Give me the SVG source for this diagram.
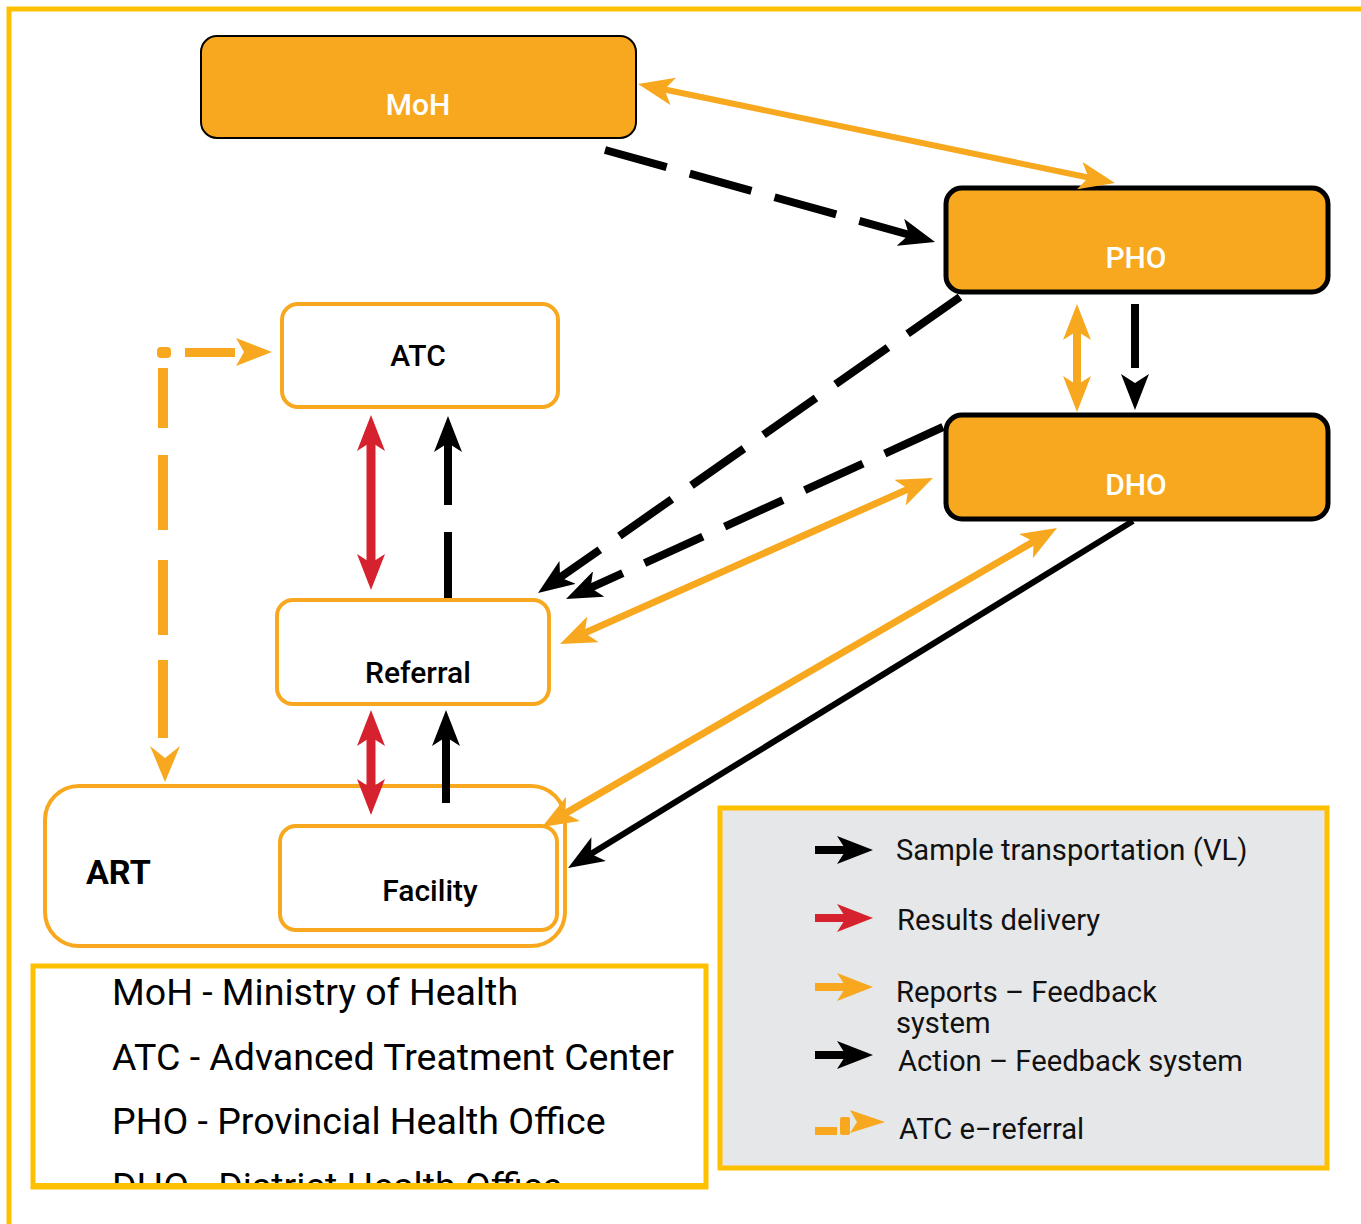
<svg xmlns="http://www.w3.org/2000/svg" width="1361" height="1224" viewBox="0 0 1361 1224">
<style>
.node{fill:#F7A81E;stroke:#000;}
.wbox{fill:#fff;stroke:#F7A81E;stroke-width:4;}
.lbl{font-family:Roboto,"Liberation Sans",sans-serif;font-weight:500;font-size:30px;text-anchor:middle;}
.wt{fill:#fff;}
.bk{fill:#000;}
.leg{font-family:Roboto,"Liberation Sans",sans-serif;font-size:29.2px;fill:#111;}
.abbr{font-family:Roboto,"Liberation Sans",sans-serif;font-size:37.5px;fill:#000;}
.o{stroke:#F7A81E;fill:none;}
.b{stroke:#000;fill:none;}
.r{stroke:#D6222E;fill:none;}
</style>
<defs>
<marker id="mo" viewBox="0 0 36 28" refX="10" refY="14" markerWidth="36" markerHeight="28" markerUnits="userSpaceOnUse" orient="auto-start-reverse"><path d="M0,0 L36,14 L0,28 L9,14 z" fill="#F7A81E"/></marker>
<marker id="mb" viewBox="0 0 36 28" refX="10" refY="14" markerWidth="36" markerHeight="28" markerUnits="userSpaceOnUse" orient="auto-start-reverse"><path d="M0,0 L36,14 L0,28 L9,14 z" fill="#000"/></marker>
<marker id="mr" viewBox="0 0 36 28" refX="10" refY="14" markerWidth="36" markerHeight="28" markerUnits="userSpaceOnUse" orient="auto-start-reverse"><path d="M0,0 L36,14 L0,28 L9,14 z" fill="#D6222E"/></marker>
<clipPath id="abclip"><rect x="30" y="960" width="680" height="224"/></clipPath>
</defs>
<rect width="1361" height="1224" fill="#fff"/>
<path d="M9,1224 L9,9 L1361,9" fill="none" stroke="#FFC000" stroke-width="5"/>

<g id="MoH"><rect class="node" x="201" y="36" width="435" height="102" rx="16" stroke-width="2"/><text class="lbl wt" x="418" y="115">MoH</text></g>
<g id="PHO"><rect class="node" x="946" y="188" width="382" height="104" rx="16" stroke-width="5"/><text class="lbl wt" x="1136" y="268">PHO</text></g>
<g id="DHO"><rect class="node" x="946" y="415" width="382" height="104" rx="16" stroke-width="5"/><text class="lbl wt" x="1136" y="495">DHO</text></g>
<g id="ATC"><rect class="wbox" x="282" y="304" width="276" height="103" rx="16"/><text class="lbl bk" x="418" y="366">ATC</text></g>
<g id="Referral"><rect class="wbox" x="277" y="600" width="272" height="104" rx="16"/><text class="lbl bk" x="418" y="683">Referral</text></g>
<g id="ART"><rect class="wbox" x="45" y="786" width="520" height="160" rx="34"/><text x="86" y="884" font-family="Roboto,'Liberation Sans',sans-serif" font-weight="700" font-size="34">ART</text></g>
<g id="Facility"><rect class="wbox" x="280" y="826" width="277" height="104" rx="16"/><text class="lbl bk" x="430" y="901">Facility</text></g>

<g id="connectors">
<line class="o" x1="663.5" y1="89.3" x2="1089.5" y2="177.7" stroke-width="6" marker-start="url(#mo)" marker-end="url(#mo)"/>
<line class="b" x1="605" y1="150" x2="910" y2="235" stroke-width="8" stroke-dasharray="64 24" marker-end="url(#mb)"/>
<line class="b" x1="960" y1="297" x2="559.3" y2="578.1" stroke-width="8" stroke-dasharray="64 24" marker-end="url(#mb)"/>
<line class="b" x1="943" y1="427" x2="589.7" y2="588.2" stroke-width="8" stroke-dasharray="64 24" marker-end="url(#mb)"/>
<line class="o" x1="909.2" y1="488.6" x2="583.8" y2="633.4" stroke-width="7" marker-start="url(#mo)" marker-end="url(#mo)"/>
<line class="o" x1="1034.5" y1="541.1" x2="564.5" y2="813.9" stroke-width="7" marker-start="url(#mo)" marker-end="url(#mo)"/>
<line class="b" x1="1133" y1="521" x2="590.2" y2="854.4" stroke-width="6" marker-end="url(#mb)"/>
<line class="o" x1="1077" y1="330" x2="1077" y2="386" stroke-width="8" marker-start="url(#mo)" marker-end="url(#mo)"/>
<line class="b" x1="1135" y1="304" x2="1135" y2="368" stroke-width="8"/>
<line class="b" x1="1135" y1="383" x2="1135" y2="384" stroke-width="4" marker-end="url(#mb)"/>
<line class="r" x1="371" y1="441" x2="371" y2="564" stroke-width="9" marker-start="url(#mr)" marker-end="url(#mr)"/>
<line class="b" x1="448" y1="598" x2="448" y2="532" stroke-width="8"/>
<line class="b" x1="448" y1="505" x2="448" y2="442" stroke-width="8" marker-end="url(#mb)"/>
<line class="r" x1="371" y1="736" x2="371" y2="789" stroke-width="9" marker-start="url(#mr)" marker-end="url(#mr)"/>
<line class="b" x1="446" y1="803" x2="446" y2="736" stroke-width="8" marker-end="url(#mb)"/>
<g fill="#F7A81E">
<rect x="157" y="347" width="14" height="11" rx="4"/>
<rect x="185" y="348" width="50" height="9"/>
<polygon points="236,338 272,352 236,366 244,352"/>
<rect x="158" y="368" width="10" height="60"/>
<rect x="158" y="455" width="10" height="75"/>
<rect x="158" y="560" width="10" height="75"/>
<rect x="158" y="660" width="10" height="78"/>
<polygon points="150,746 165,782 180,746 165,758"/>
</g>
</g>

<g id="abbreviations">
<rect x="33" y="966" width="673" height="221" fill="#fff" stroke="#FFC000" stroke-width="5"/>
<g clip-path="url(#abclip)">
<text class="abbr" x="112" y="1005">MoH - Ministry of Health</text>
<text class="abbr" x="112" y="1070">ATC - Advanced Treatment Center</text>
<text class="abbr" x="112" y="1134">PHO - Provincial Health Office</text>
<text class="abbr" x="112" y="1199">DHO - District Health Office</text>
</g>
<line x1="33" y1="1186" x2="706" y2="1186" stroke="#FFC000" stroke-width="6"/>
</g>

<g id="legend">
<rect x="720" y="808" width="607" height="360" fill="#E6E7E8" stroke="#FFC000" stroke-width="5"/>
<line class="b" x1="815" y1="850" x2="847" y2="850" stroke-width="8" marker-end="url(#mb)"/>
<text class="leg" x="896" y="860">Sample transportation (VL)</text>
<line class="r" x1="815" y1="918" x2="847" y2="918" stroke-width="8" marker-end="url(#mr)"/>
<text class="leg" x="897" y="930">Results delivery</text>
<line class="o" x1="815" y1="987" x2="847" y2="987" stroke-width="8" marker-end="url(#mo)"/>
<text class="leg" x="896" y="1002">Reports – Feedback</text>
<text class="leg" x="896" y="1033">system</text>
<line class="b" x1="815" y1="1055" x2="847" y2="1055" stroke-width="8" marker-end="url(#mb)"/>
<text class="leg" x="898" y="1071">Action – Feedback system</text>
<g fill="#F7A81E">
<rect x="815" y="1127" width="22" height="8"/>
<rect x="840" y="1117" width="10" height="18" rx="2"/>
<polygon points="850,1110 885,1122 850,1133 857,1122"/>
</g>
<text class="leg" x="899" y="1139">ATC e−referral</text>
</g>
</svg>
